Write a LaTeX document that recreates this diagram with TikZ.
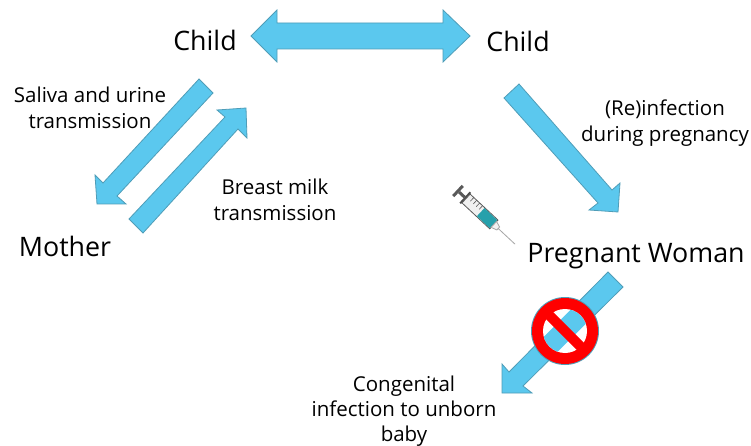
\documentclass[tikz,border=0pt]{standalone}
\usepackage{fontspec}
\setmainfont{Open Sans}
\definecolor{arrowfill}{HTML}{5BC8EE}
\definecolor{arrowedge}{HTML}{4F9DB8}
\tikzset{
  blockarrow/.style={fill=arrowfill,draw=arrowedge,line width=0.8pt,line join=miter},
  biglabel/.style={font=\fontsize{26.8}{30}\selectfont,inner sep=0pt,text=black},
  smalllabel/.style={font=\fontsize{20.5}{25.5}\selectfont,inner sep=0pt,align=center,text=black},
  congenitallabel/.style={font=\fontsize{20.5}{25}\selectfont,inner sep=0pt,align=center,text=black},
}
\begin{document}
\begin{tikzpicture}[x=1pt,y=-1pt]
\useasboundingbox (0,0) rectangle (751,446);
\fill[white] (0,0) rectangle (751,446);
% block arrows
\draw[blockarrow] (251,36) -- (277,10) -- (277,23) -- (443,23) -- (443,10) -- (470,36) -- (443,62) -- (443,49) -- (277,49) -- (277,62) -- cycle;
\draw[blockarrow] (199,79) -- (213,93) -- (117,196) -- (126,204) -- (97,204) -- (95,175) -- (103,183) -- cycle;
\draw[blockarrow] (129,219) -- (143,233) -- (238,129) -- (247,138) -- (246,108) -- (217,110) -- (225,117) -- cycle;
\draw[blockarrow] (519,84) -- (504,98) -- (598,203) -- (589,210) -- (618,212) -- (620,183) -- (612,190) -- cycle;
\draw[blockarrow] (608,272) -- (623,287) -- (523,386) -- (532,393) -- (502,393) -- (502,364) -- (509,372) -- cycle;
% no sign
\fill[arrowedge] (565,331) circle (34);
\fill[red] (565,331) circle (33);
\begin{scope}
\clip (565,331) circle (22);
\fill[white] (565,331) circle (23);
\fill[arrowfill] (608,272) -- (623,287) -- (523,386) -- (509,372) -- cycle;
\end{scope}
\draw[red,line width=10pt] (547,313) -- (583,349);
% syringe
\begin{scope}[shift={(458,191)},rotate=-43]
\fill[gray!70!black] (-1.5,-7) rectangle (1.5,7);
\fill[gray!70!black] (1.5,-1.5) rectangle (9,1.5);
\fill[gray!60!black] (9,-7.5) rectangle (11,7.5);
\draw[gray!70!black,fill=gray!12,line width=0.8pt] (11,-6) rectangle (49,6);
\foreach \t in {16,20,24,28} \draw[gray!70!black,line width=0.6pt] (\t,-6) -- (\t,-1);
\fill[arrowfill!60!blue!70!green] (31,-5.5) rectangle (48.5,5.5);
\draw[gray!70,fill=gray!10,line width=0.8pt] (49,-4) -- (55,-2) -- (55,2) -- (49,4) -- cycle;
\draw[gray!70,line width=0.8pt] (55,0) -- (78,0);
\end{scope}
% labels
\node[biglabel] (child1) at (205,40) {Child};
\node[biglabel] (child2) at (518,41) {Child};
\node[biglabel] (mother) at (65,246) {Mother};
\node[biglabel] (woman) at (636,256) {Pregnant Woman};
\node[smalllabel] (saliva) at (90,108) {Saliva and urine\\transmission};
\node[smalllabel] (milk) at (275,200) {Breast milk\\transmission};
\node[smalllabel] (reinf) at (665,123) {(Re)infection\\during pregnancy};
\node[congenitallabel] (cong) at (404,411) {Congenital\\infection to unborn\\baby};
\end{tikzpicture}
\end{document}
